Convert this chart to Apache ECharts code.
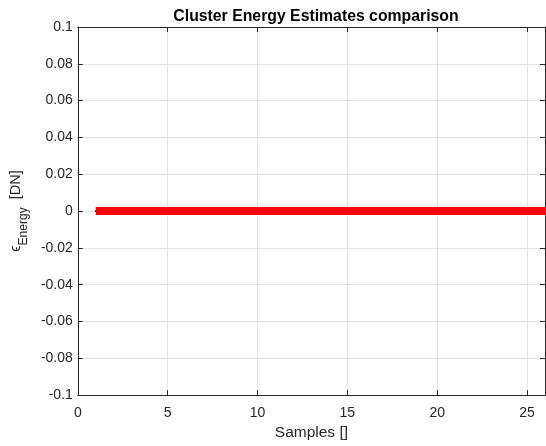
<!DOCTYPE html>
<html>
<head>
<meta charset="utf-8">
<script src="https://cdn.jsdelivr.net/npm/echarts@6/dist/echarts.min.js"></script>
<style>
  html, body { margin: 0; padding: 0; background: #fff; }
  #chart { width: 546px; height: 446px; }
</style>
</head>
<body>
<div id="chart"></div>
<script>
// samples run past the visible x range, the plot clips them at 26
var samples = [1, 2, 3, 4, 5, 6, 7, 8, 9, 10, 11, 12, 13, 14, 15, 16, 17, 18, 19, 20,
               21, 22, 23, 24, 25, 26, 27, 28, 29, 30];
var estimateA = [0, 0, 0, 0, 0, 0, 0, 0, 0, 0, 0, 0, 0, 0, 0, 0, 0, 0, 0, 0,
                 0, 0, 0, 0, 0, 0, 0, 0, 0, 0];
var estimateB = [0, 0, 0, 0, 0, 0, 0, 0, 0, 0, 0, 0, 0, 0, 0, 0, 0, 0, 0, 0,
                 0, 0, 0, 0, 0, 0, 0, 0, 0, 0];

function toPairs(xs, ys) {
    var out = [];
    for (var i = 0; i < xs.length; i++) out.push([xs[i], ys[i]]);
    return out;
}

var font = 'Liberation Sans, Arial, Helvetica, sans-serif';
var ink = '#262626';
var gridColor = '#e2e2e2';

var chart = echarts.init(document.getElementById('chart'), null, { renderer: 'canvas' });

var option = {
    animation: false,
    backgroundColor: '#fff',
    title: {
        text: 'Cluster Energy Estimates comparison',
        left: 311,
        textAlign: 'center',
        top: 4,
        textStyle: { fontFamily: font, fontSize: 15.8, fontWeight: 'bold', color: '#000' }
    },
    grid: { left: 77, right: 1, top: 27, bottom: 48 },
    xAxis: [
        {
            type: 'value',
            min: 0,
            max: 26,
            interval: 5,
            name: 'Samples []',
            nameLocation: 'middle',
            nameGap: 29,
            nameTextStyle: { fontFamily: font, fontSize: 15.5, color: ink },
            axisLine: { show: true, onZero: false, lineStyle: { color: ink, width: 1 } },
            axisTick: { show: true, inside: true, length: 5, lineStyle: { color: ink } },
            axisLabel: { fontFamily: font, fontSize: 14, color: ink, margin: 11, showMaxLabel: false },
            splitLine: { show: true, lineStyle: { color: gridColor, width: 1 } }
        },
        {
            type: 'value',
            position: 'top',
            min: 0,
            max: 26,
            interval: 5,
            axisLine: { show: true, onZero: false, lineStyle: { color: ink, width: 1 } },
            axisTick: { show: true, inside: true, length: 5, lineStyle: { color: ink } },
            axisLabel: { show: false },
            splitLine: { show: false }
        }
    ],
    yAxis: [
        {
            type: 'value',
            min: -0.1,
            max: 0.1,
            interval: 0.02,
            name: '{e|ϵ}{s|Energy}{n|  [DN]}',
            nameLocation: 'middle',
            nameRotate: 90,
            nameGap: 36,
            nameTextStyle: {
                fontFamily: font,
                color: ink,
                rich: {
                    e: { fontFamily: font, fontSize: 14.5, lineHeight: 16, verticalAlign: 'top', color: ink },
                    s: { fontFamily: font, fontSize: 12, lineHeight: 32, color: ink },
                    n: { fontFamily: font, fontSize: 14.5, lineHeight: 16, verticalAlign: 'top', color: ink }
                }
            },
            axisLine: { show: true, onZero: false, lineStyle: { color: ink, width: 1 } },
            axisTick: { show: true, inside: true, length: 5, lineStyle: { color: ink } },
            axisLabel: { fontFamily: font, fontSize: 14, color: ink, margin: 5 },
            splitLine: { show: true, lineStyle: { color: gridColor, width: 1 } }
        },
        {
            type: 'value',
            position: 'right',
            min: -0.1,
            max: 0.1,
            interval: 0.02,
            axisLine: { show: true, onZero: false, lineStyle: { color: ink, width: 1 } },
            axisTick: { show: true, inside: true, length: 5, lineStyle: { color: ink } },
            axisLabel: { show: false },
            splitLine: { show: false }
        }
    ],
    series: [
        {
            name: 'estimate B',
            type: 'line',
            data: toPairs(samples, estimateB),
            showSymbol: false,
            lineStyle: { color: '#0000ff', width: 2, cap: 'round' },
            z: 2
        },
        {
            name: 'estimate A',
            type: 'line',
            data: toPairs(samples, estimateA),
            showSymbol: false,
            lineStyle: { color: '#ff0000', width: 8 },
            z: 3
        }
    ]
};

chart.setOption(option);
</script>
</body>
</html>
